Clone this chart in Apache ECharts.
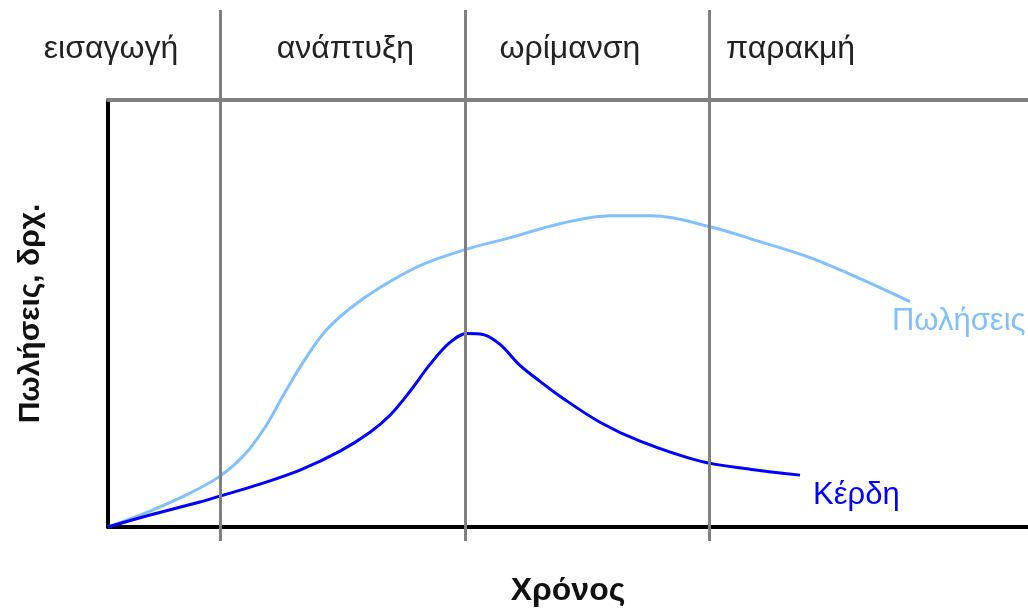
<!DOCTYPE html>
<html>
<head>
<meta charset="utf-8">
<script src="https://cdn.jsdelivr.net/npm/echarts@6/dist/echarts.min.js"></script>
<style>html,body{margin:0;padding:0;background:#fff}#c{width:1028px;height:612px}</style>
</head>
<body>
<div id="c"></div>
<script>
// Time in % of axis span (0..100), sales/profit in % of axis height (0..100)
var phaseNames = ['εισαγωγή', 'ανάπτυξη', 'ωρίμανση', 'παρακμή'];
var phaseLabelX = [0.33, 25.8, 50.2, 74.2];
var phaseBounds = [12.2, 38.8, 65.4];

var salesT = [0, 4.57, 8.91, 12.17, 14.89, 17.07, 19.24, 21.41, 23.59, 26.30, 29.57, 33.91, 38.80, 43.70, 49.13, 54.57, 58.91, 65.43, 70.87, 76.30, 81.74, 87.17];
var salesV = [0, 3.74, 7.94, 11.92, 17.06, 23.36, 31.54, 39.25, 45.79, 51.17, 56.07, 61.21, 64.95, 67.76, 71.03, 72.90, 72.90, 70.33, 66.82, 63.08, 58.18, 52.80];

var profitT = [0, 4.57, 10.0, 12.17, 16.52, 20.87, 25.22, 28.48, 30.65, 32.83, 35.0, 37.17, 39.02, 40.76, 42.61, 44.78, 46.96, 49.13, 53.48, 57.83, 64.35, 69.78, 75.22];
var profitV = [0, 2.80, 5.84, 7.24, 10.05, 13.32, 17.76, 22.20, 26.17, 31.78, 38.08, 43.22, 45.33, 45.09, 42.76, 37.85, 34.11, 30.61, 24.53, 20.09, 15.42, 13.55, 12.15];

var seriesNames = ['Πωλήσεις', 'Κέρδη'];
var axisNameY = 'Πωλήσεις, δρχ.';
var axisNameX = 'Χρόνος';

function zip(a, b) { return a.map(function (v, i) { return [v, b[i]]; }); }

var FONT = "'Liberation Sans', Arial, sans-serif";
var chart = echarts.init(document.getElementById('c'), null, { renderer: 'canvas' });
chart.setOption({
  animation: false,
  backgroundColor: '#ffffff',
  grid: [
    { left: 108, right: 0, top: 100, bottom: 84, show: false },
    { left: 108, right: 0, top: 10, bottom: 71, show: false }
  ],
  xAxis: [
    {
      gridIndex: 0, type: 'value', min: 0, max: 100, position: 'bottom',
      name: axisNameX, nameLocation: 'middle', nameGap: 48,
      nameTextStyle: { fontFamily: FONT, fontSize: 32, fontWeight: 'bold', color: '#111' },
      axisLine: { show: true, lineStyle: { color: '#000', width: 4 } },
      axisTick: { show: false }, axisLabel: { show: false }, splitLine: { show: false }
    },
    {
      gridIndex: 0, type: 'value', min: 0, max: 100, position: 'top',
      axisLine: { show: true, lineStyle: { color: '#808080', width: 4 } },
      axisTick: { show: false }, splitLine: { show: false },
      axisLabel: {
        show: true, customValues: phaseLabelX, margin: 35, align: 'center',
        fontFamily: FONT, fontSize: 32, color: '#222',
        formatter: function (v) { var i = phaseLabelX.indexOf(v); return i >= 0 ? phaseNames[i] : ''; }
      }
    },
    {
      gridIndex: 1, type: 'value', min: 0, max: 100, show: false
    }
  ],
  yAxis: [
    {
      gridIndex: 0, type: 'value', min: 0, max: 100,
      name: axisNameY, nameLocation: 'middle', nameGap: 62, nameRotate: 90,
      nameTextStyle: { fontFamily: FONT, fontSize: 30, fontWeight: 'bold', color: '#111' },
      axisLine: { show: true, lineStyle: { color: '#000', width: 4 } },
      axisTick: { show: false }, axisLabel: { show: false }, splitLine: { show: false }
    },
    { gridIndex: 1, type: 'value', min: 0, max: 1, show: false }
  ],
  series: [
    {
      type: 'line', xAxisIndex: 2, yAxisIndex: 1, data: [], silent: true, z: 1,
      markLine: {
        silent: true, symbol: ['none', 'none'], animation: false,
        label: { show: false },
        lineStyle: { color: '#808080', width: 3, type: 'solid' },
        data: phaseBounds.map(function (b) { return { xAxis: b }; })
      }
    },
    {
      name: seriesNames[0], type: 'line', xAxisIndex: 0, yAxisIndex: 0, z: 3,
      data: zip(salesT, salesV), smooth: 0.35, showSymbol: false,
      lineStyle: { color: '#80c0ff', width: 3 },
      endLabel: {
        show: true, formatter: seriesNames[0], color: '#80c0ff',
        fontFamily: FONT, fontSize: 31, offset: [-26, 20]
      }
    },
    {
      name: seriesNames[1], type: 'line', xAxisIndex: 0, yAxisIndex: 0, z: 4,
      data: zip(profitT, profitV), smooth: 0.35, showSymbol: false,
      lineStyle: { color: '#0000ff', width: 3 },
      endLabel: {
        show: true, formatter: seriesNames[1], color: '#0000ff',
        fontFamily: FONT, fontSize: 31, offset: [5, 20]
      }
    }
  ]
});
</script>
</body>
</html>
